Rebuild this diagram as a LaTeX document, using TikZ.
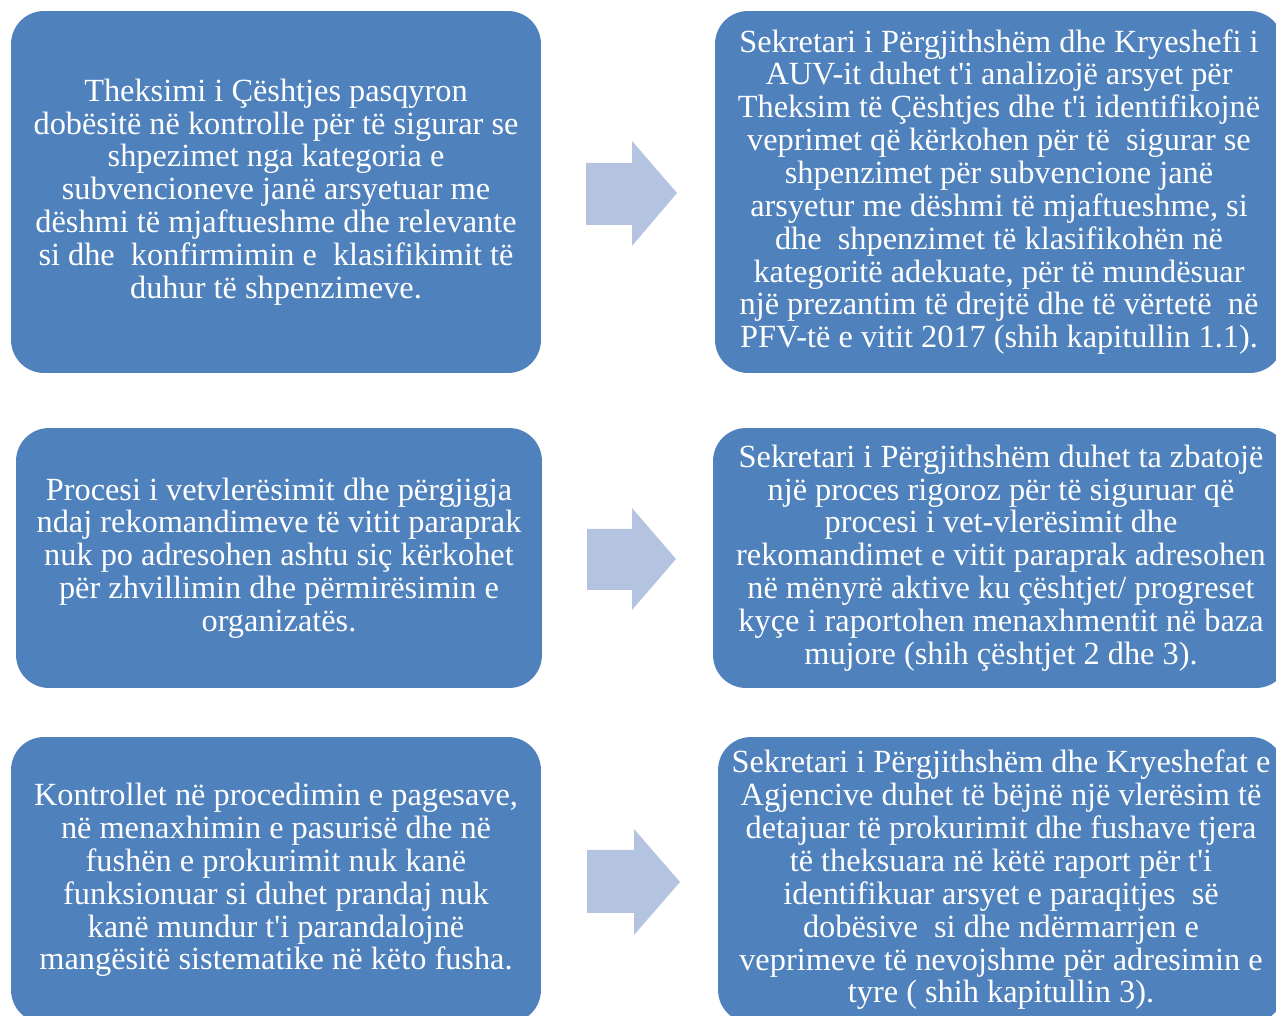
\documentclass[tikz,border=0pt]{standalone}
\usepackage{fontspec}
\setmainfont{Liberation Serif}
\definecolor{boxblue}{RGB}{79,129,189}
\definecolor{arrowblue}{RGB}{180,196,224}
\tikzset{
  finding/.style={fill=boxblue, rounded corners=0.66cm, text=white, align=center,
    inner sep=0pt, font=\fontsize{18.4}{18.7}\selectfont},
  bigarrow/.style={fill=arrowblue}
}
\begin{document}
\begin{tikzpicture}[x=0.02cm,y=-0.02cm]
\useasboundingbox (0,0) rectangle (1276,1016);
\clip (0,0) rectangle (1276,1016);
% first row
\node[finding, minimum width=10.6cm, minimum height=7.24cm] (gjetja1) at (276,192)
  {Theksimi i Çështjes pasqyron\\ dobësitë në kontrolle për të sigurar se\\ shpezimet nga kategoria e\\ subvencioneve janë arsyetuar me\\ dëshmi të mjaftueshme dhe relevante\\ si dhe\ \ konfirmimin e\ \ klasifikimit të\\ duhur të shpenzimeve.};
\node[finding, minimum width=11.36cm, minimum height=7.24cm] (rek1) at (999,192)
  {Sekretari i Përgjithshëm dhe Kryeshefi i\\ AUV-it duhet t\textquotesingle i analizojë arsyet për\\ Theksim të Çështjes dhe t\textquotesingle i identifikojnë\\ veprimet që kërkohen për të\ \ sigurar se\\ shpenzimet për subvencione janë\\ arsyetur me dëshmi të mjaftueshme, si\\ dhe\ \ shpenzimet të klasifikohën në\\ kategoritë adekuate, për të mundësuar\\ një prezantim të drejtë dhe të vërtetë\ \ në\\ PFV-të e vitit 2017 (shih kapitullin 1.1).};
\fill[bigarrow] (586,163) -- (632,163) -- (632,141) -- (677,193) -- (632,246) -- (632,225) -- (586,225) -- cycle;
% second row
\node[finding, minimum width=10.52cm, minimum height=5.2cm] (gjetja2) at (279,558)
  {Procesi i vetvlerësimit dhe përgjigja\\ ndaj rekomandimeve të vitit paraprak\\ nuk po adresohen ashtu siç kërkohet\\ për zhvillimin dhe përmirësimin e\\ organizatës.};
\node[finding, minimum width=11.52cm, minimum height=5.2cm] (rek2) at (1001,558)
  {Sekretari i Përgjithshëm duhet ta zbatojë\\ një proces rigoroz për të siguruar që\\ procesi i vet-vlerësimit dhe\\ rekomandimet e vitit paraprak adresohen\\ në mënyrë aktive ku çështjet/ progreset\\ kyçe i raportohen menaxhmentit në baza\\ mujore (shih çështjet 2 dhe 3).};
\fill[bigarrow] (587,529) -- (632,529) -- (632,508) -- (676,559) -- (632,610) -- (632,590) -- (587,590) -- cycle;
% third row
\node[finding, minimum width=10.6cm, minimum height=5.72cm] (gjetja3) at (276,880)
  {Kontrollet në procedimin e pagesave,\\ në menaxhimin e pasurisë dhe në\\ fushën e prokurimit nuk kanë\\ funksionuar si duhet prandaj nuk\\ kanë mundur t\textquotesingle i parandalojnë\\ mangësitë sistematike në këto fusha.};
\node[finding, minimum width=11.32cm, minimum height=5.72cm] (rek3) at (1001,880)
  {Sekretari i Përgjithshëm dhe Kryeshefat e\\ Agjencive duhet të bëjnë një vlerësim të\\ detajuar të prokurimit dhe fushave tjera\\ të theksuara në këtë raport për t\textquotesingle i\\ identifikuar arsyet e paraqitjes\ \ së\\ dobësive\ \ si dhe ndërmarrjen e\\ veprimeve të nevojshme për adresimin e\\ tyre ( shih kapitullin 3).};
\fill[bigarrow] (587,850) -- (634,850) -- (634,829) -- (680,882) -- (634,935) -- (634,913) -- (587,913) -- cycle;
\end{tikzpicture}
\end{document}
